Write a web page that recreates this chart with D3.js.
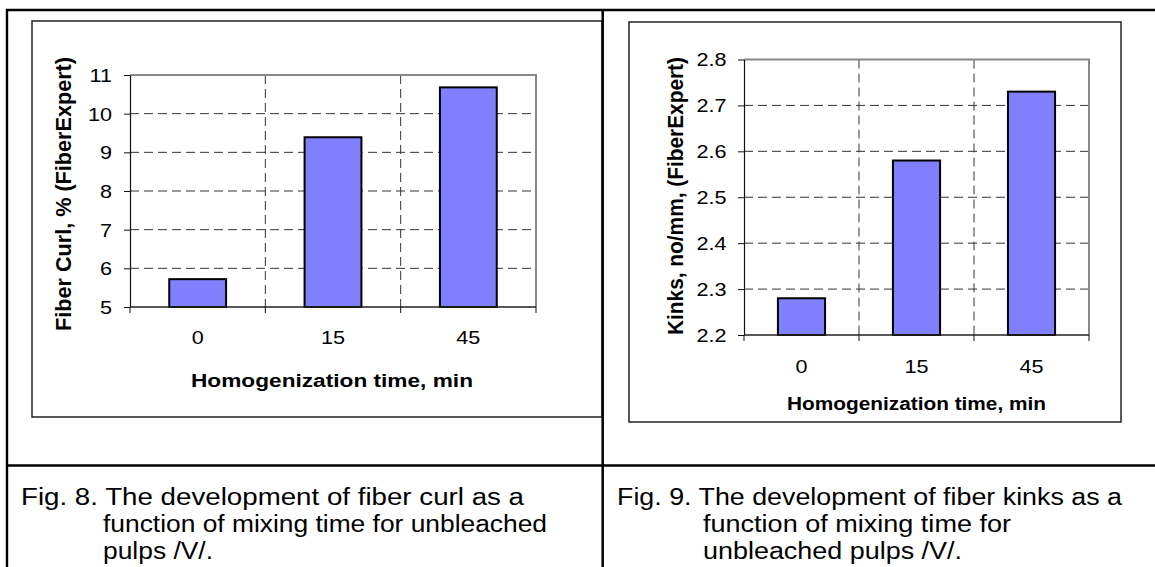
<!DOCTYPE html>
<html>
<head>
<meta charset="utf-8">
<script src="https://cdn.jsdelivr.net/npm/d3@7"></script>
<style>
  html, body { margin: 0; padding: 0; background: #fff; }
  svg { display: block; }
  text { font-family: Arial, "Liberation Sans", sans-serif; fill: #000; }
</style>
</head>
<body>
<svg id="chart" width="1155" height="567"></svg>
<script>
// ---- data ----
const categories = ["0", "15", "45"];
const curlValues = [5.72, 9.39, 10.68];
const kinkValues = [2.28, 2.58, 2.73];
const curlTicks = [5, 6, 7, 8, 9, 10, 11];
const kinkTicks = [2.2, 2.3, 2.4, 2.5, 2.6, 2.7, 2.8];
const curlYTitle = "Fiber Curl, % (FiberExpert)";
const kinkYTitle = "Kinks, no/mm, (FiberExpert)";
const xTitleText = "Homogenization time, min";
const caption8 = ["Fig. 8. The development of fiber curl as a",
                  "function of mixing time for unbleached",
                  "pulps /V/."];
const caption9 = ["Fig. 9. The development of fiber kinks as a",
                  "function of mixing time for",
                  "unbleached pulps /V/."];

const svg = d3.select("#chart");
const SX = 1.2; // horizontal stretch of the source text

// ---- chart frames ----
svg.append("rect").attr("x", 32).attr("y", 21).attr("width", 570).attr("height", 396)
  .attr("fill", "#fff").attr("stroke", "#222").attr("stroke-width", 1.5);
svg.append("rect").attr("x", 629).attr("y", 22).attr("width", 492).attr("height", 400)
  .attr("fill", "#fff").attr("stroke", "#222").attr("stroke-width", 1.5);

function drawChart(cfg) {
  const g = svg.append("g");
  const x = d3.scaleBand().domain(categories).range([cfg.x0, cfg.x1])
    .paddingInner(cfg.pad).paddingOuter(cfg.pad / 2);
  const y = d3.scaleLinear().domain([cfg.ticks[0], cfg.ticks[cfg.ticks.length - 1]])
    .range([cfg.y1, cfg.y0]);
  const step = x.step();
  const bounds = [cfg.x0].concat(categories.map(c => x(c) - step * cfg.pad / 2 + step));

  // horizontal dashed gridlines
  g.append("g").selectAll("line").data(cfg.ticks.slice(1, -1)).join("line")
    .attr("x1", cfg.x0).attr("x2", cfg.x1)
    .attr("y1", d => y(d)).attr("y2", d => y(d))
    .attr("stroke", "#333").attr("stroke-width", 1).attr("stroke-dasharray", "9,5");
  // vertical dashed gridlines
  g.append("g").selectAll("line").data(bounds.slice(1, -1)).join("line")
    .attr("x1", d => d).attr("x2", d => d)
    .attr("y1", cfg.y0).attr("y2", cfg.y1)
    .attr("stroke", "#333").attr("stroke-width", 1).attr("stroke-dasharray", "9,5");

  // plot border top/right (gray)
  g.append("path")
    .attr("d", `M${cfg.x0},${cfg.y0}H${cfg.x1}V${cfg.y1}`)
    .attr("fill", "none").attr("stroke", "#888").attr("stroke-width", 2);

  // bars
  g.append("g").selectAll("rect").data(cfg.values).join("rect")
    .attr("x", (d, i) => x(categories[i]))
    .attr("width", x.bandwidth())
    .attr("y", d => y(d))
    .attr("height", d => y(cfg.ticks[0]) - y(d))
    .attr("fill", "#8080ff").attr("stroke", "#000").attr("stroke-width", 2);

  // y axis
  const ya = g.append("g").attr("transform", `translate(${cfg.x0},0)`)
    .call(d3.axisLeft(y).tickValues(cfg.ticks).tickSize(6).tickSizeOuter(0)
      .tickFormat(d => String(d)));
  ya.select(".domain").attr("stroke", "#111").attr("stroke-width", 1.2);
  ya.selectAll(".tick line").attr("stroke", "#111");
  ya.selectAll(".tick text")
    .attr("font-size", 18).attr("font-family", "Arial, 'Liberation Sans', sans-serif")
    .attr("x", -cfg.labelGap / SX).attr("dy", "0.36em")
    .attr("transform", `scale(${SX},1)`);

  // x axis: labels at band centres
  const xa = g.append("g").attr("transform", `translate(0,${cfg.y1})`)
    .call(d3.axisBottom(x).tickSize(0).tickSizeOuter(0));
  xa.select(".domain").remove();
  xa.selectAll(".tick text")
    .attr("font-size", 18).attr("font-family", "Arial, 'Liberation Sans', sans-serif")
    .attr("y", cfg.xLabelDy).attr("dy", 0)
    .attr("transform", `scale(${SX},1)`)
    .each(function () {
      // counter the tick translate being scaled: put x so scaled position stays at tick
    });
  // fix position: scale is applied inside tick group so centre stays at 0 -> fine
  // x baseline + boundary ticks
  g.append("line").attr("x1", cfg.x0).attr("x2", cfg.x1)
    .attr("y1", cfg.y1).attr("y2", cfg.y1).attr("stroke", "#222").attr("stroke-width", 1.6);
  g.append("g").selectAll("line").data(bounds).join("line")
    .attr("x1", d => d).attr("x2", d => d)
    .attr("y1", cfg.y1).attr("y2", cfg.y1 + 6).attr("stroke", "#111");

  // x title
  g.append("text")
    .attr("transform", `translate(${cfg.xTitleX},${cfg.xTitleY})`)
    .attr("text-anchor", "middle").attr("font-size", 18).attr("font-weight", "bold")
    .attr("textLength", cfg.xTitleLen).attr("lengthAdjust", "spacingAndGlyphs")
    .attr("x", -cfg.xTitleLen / 2).attr("text-anchor", "start")
    .text(xTitleText);

  // y title
  g.append("text")
    .attr("transform", `translate(${cfg.yTitleX},${cfg.yTitleY}) rotate(-90)`)
    .attr("font-size", 21.5).attr("font-weight", "bold")
    .attr("x", -cfg.yTitleLen / 2)
    .attr("textLength", cfg.yTitleLen).attr("lengthAdjust", "spacingAndGlyphs")
    .text(cfg.yTitle);
}

drawChart({
  x0: 130, x1: 536, y0: 75, y1: 307, pad: 0.58,
  values: curlValues, ticks: curlTicks, labelGap: 18, xLabelDy: 37 / 1,
  xTitleX: 332, xTitleY: 387, xTitleLen: 282,
  yTitle: curlYTitle, yTitleX: 70.5, yTitleY: 194, yTitleLen: 274
});
drawChart({
  x0: 744, x1: 1089, y0: 59.5, y1: 335, pad: 0.59,
  values: kinkValues, ticks: kinkTicks, labelGap: 17.5, xLabelDy: 38,
  xTitleX: 916.5, xTitleY: 410, xTitleLen: 259,
  yTitle: kinkYTitle, yTitleX: 682.5, yTitleY: 196, yTitleLen: 278
});

// ---- table lines ----
const tbl = svg.append("g").attr("stroke", "#000").attr("fill", "none");
tbl.append("line").attr("x1", 6).attr("x2", 1155).attr("y1", 10).attr("y2", 10).attr("stroke-width", 2.6);
tbl.append("line").attr("x1", 7).attr("x2", 7).attr("y1", 9).attr("y2", 567).attr("stroke-width", 2.4);
tbl.append("line").attr("x1", 602.7).attr("x2", 602.7).attr("y1", 9).attr("y2", 567).attr("stroke-width", 2.5);
tbl.append("line").attr("x1", 6).attr("x2", 1155).attr("y1", 465.5).attr("y2", 465.5).attr("stroke-width", 2.6);

// ---- captions ----
function caption(lines, x1, x2, widths) {
  const ys = [505, 532, 559];
  lines.forEach((t, i) => {
    svg.append("text")
      .attr("x", i === 0 ? x1 : x2).attr("y", ys[i])
      .attr("font-size", 23)
      .attr("textLength", widths[i]).attr("lengthAdjust", "spacingAndGlyphs")
      .text(t);
  });
}
caption(caption8, 21, 103, [503, 444, 110]);
caption(caption9, 617, 703, [505, 308, 259]);
</script>
</body>
</html>
